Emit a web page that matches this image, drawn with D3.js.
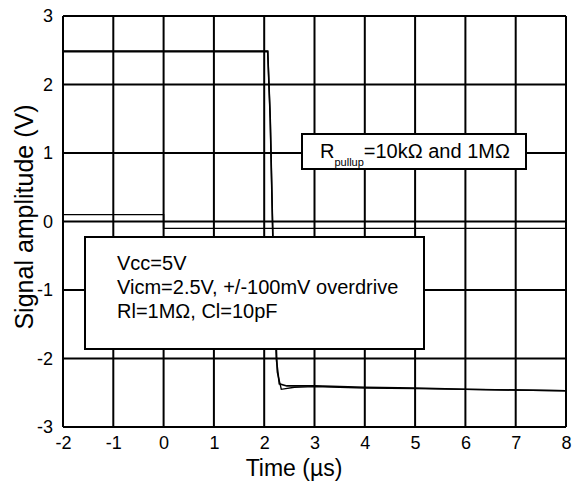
<!DOCTYPE html>
<html><head><meta charset="utf-8">
<script src="https://cdn.jsdelivr.net/npm/d3@7"></script>
<style>body{margin:0;background:#fff;}svg{font-family:"Liberation Sans",Arial,sans-serif;}</style>
</head><body>
<svg id="c" width="581" height="486"></svg>
<script>
const xTicks = [-2,-1,0,1,2,3,4,5,6,7,8];
const yTicks = [-3,-2,-1,0,1,2,3];
// Output trace, Rpullup = 10kΩ
const out1T = [-2, 2.07, 2.12, 2.18, 2.24, 2.3, 2.45, 3, 4, 5, 6, 7, 8];
const out1V = [2.48, 2.48, 1.5, -0.5, -2.0, -2.37, -2.40, -2.40, -2.42, -2.43, -2.45, -2.46, -2.47];
// Output trace, Rpullup = 1MΩ
const out2T = [-2, 2.07, 2.12, 2.18, 2.26, 2.34, 2.6, 3, 4, 5, 6, 7, 8];
const out2V = [2.49, 2.49, 1.5, -0.5, -2.2, -2.45, -2.42, -2.41, -2.43, -2.44, -2.45, -2.46, -2.47];
// Input overdrive trace
const inT = [-2, 0, 0, 8];
const inV = [0.1, 0.1, -0.1, -0.1];

const svg = d3.select("#c");
const L=63, R=566, T=16, B=427;
const x = d3.scaleLinear().domain([-2,8]).range([L,R]);
const y = d3.scaleLinear().domain([-3,3]).range([B,T]);
const FF = "Liberation Sans, Arial, sans-serif";

// grid
svg.append("g").selectAll("line").data(xTicks).join("line")
  .attr("x1",d=>x(d)).attr("x2",d=>x(d)).attr("y1",T).attr("y2",B)
  .attr("stroke","#000").attr("stroke-width",2);
svg.append("g").selectAll("line").data(yTicks).join("line")
  .attr("y1",d=>y(d)).attr("y2",d=>y(d)).attr("x1",L).attr("x2",R)
  .attr("stroke","#000").attr("stroke-width",2);

const line = d3.line().x(d=>x(d[0])).y(d=>y(d[1]));
const mk = (t,v)=>t.map((d,i)=>[d,v[i]]);
svg.append("path").datum(mk(inT,inV)).attr("d",line).attr("fill","none").attr("stroke","#000").attr("stroke-width",1.4);
svg.append("path").datum(mk(out1T,out1V)).attr("d",line).attr("fill","none").attr("stroke","#000").attr("stroke-width",1.6);
svg.append("path").datum(mk(out2T,out2V)).attr("d",line).attr("fill","none").attr("stroke","#000").attr("stroke-width",1.4);

// axes
const fmt = d => String(d);
const xa = svg.append("g").attr("transform",`translate(0,${B})`).call(d3.axisBottom(x).tickValues(xTicks).tickFormat(fmt).tickSize(0).tickPadding(9));
xa.select(".domain").remove();
xa.selectAll("text").attr("font-size",18).attr("font-family",FF).attr("fill","#000");
const ya = svg.append("g").attr("transform",`translate(${L},0)`).call(d3.axisLeft(y).tickValues(yTicks).tickFormat(fmt).tickSize(0).tickPadding(10));
ya.select(".domain").remove();
ya.selectAll("text").attr("font-size",18).attr("font-family",FF).attr("fill","#000");

svg.append("text").attr("x",294).attr("y",476).attr("text-anchor","middle").attr("font-size",23).text("Time (µs)");
svg.append("text").attr("transform",`translate(33,217) rotate(-90)`).attr("text-anchor","middle").attr("font-size",25).text("Signal amplitude (V)");

// legend box
svg.append("rect").attr("x",302).attr("y",134).attr("width",224).attr("height",35).attr("fill","#fff").attr("stroke","#000").attr("stroke-width",2);
const lt = svg.append("text").attr("x",320).attr("y",158).attr("font-size",20);
lt.append("tspan").text("R");
lt.append("tspan").attr("font-size",11).attr("dy",8).text("pullup");
lt.append("tspan").attr("dy",-8).text("=10kΩ and 1MΩ");

// condition box
svg.append("rect").attr("x",85).attr("y",237).attr("width",339).attr("height",112).attr("fill","#fff").attr("stroke","#000").attr("stroke-width",2);
const cond = ["Vcc=5V","Vicm=2.5V, +/-100mV overdrive","Rl=1MΩ, Cl=10pF"];
svg.append("g").selectAll("text").data(cond).join("text")
  .attr("x",117).attr("y",(d,i)=>270+i*24).attr("font-size",20).text(d=>d);
</script>
</body></html>
